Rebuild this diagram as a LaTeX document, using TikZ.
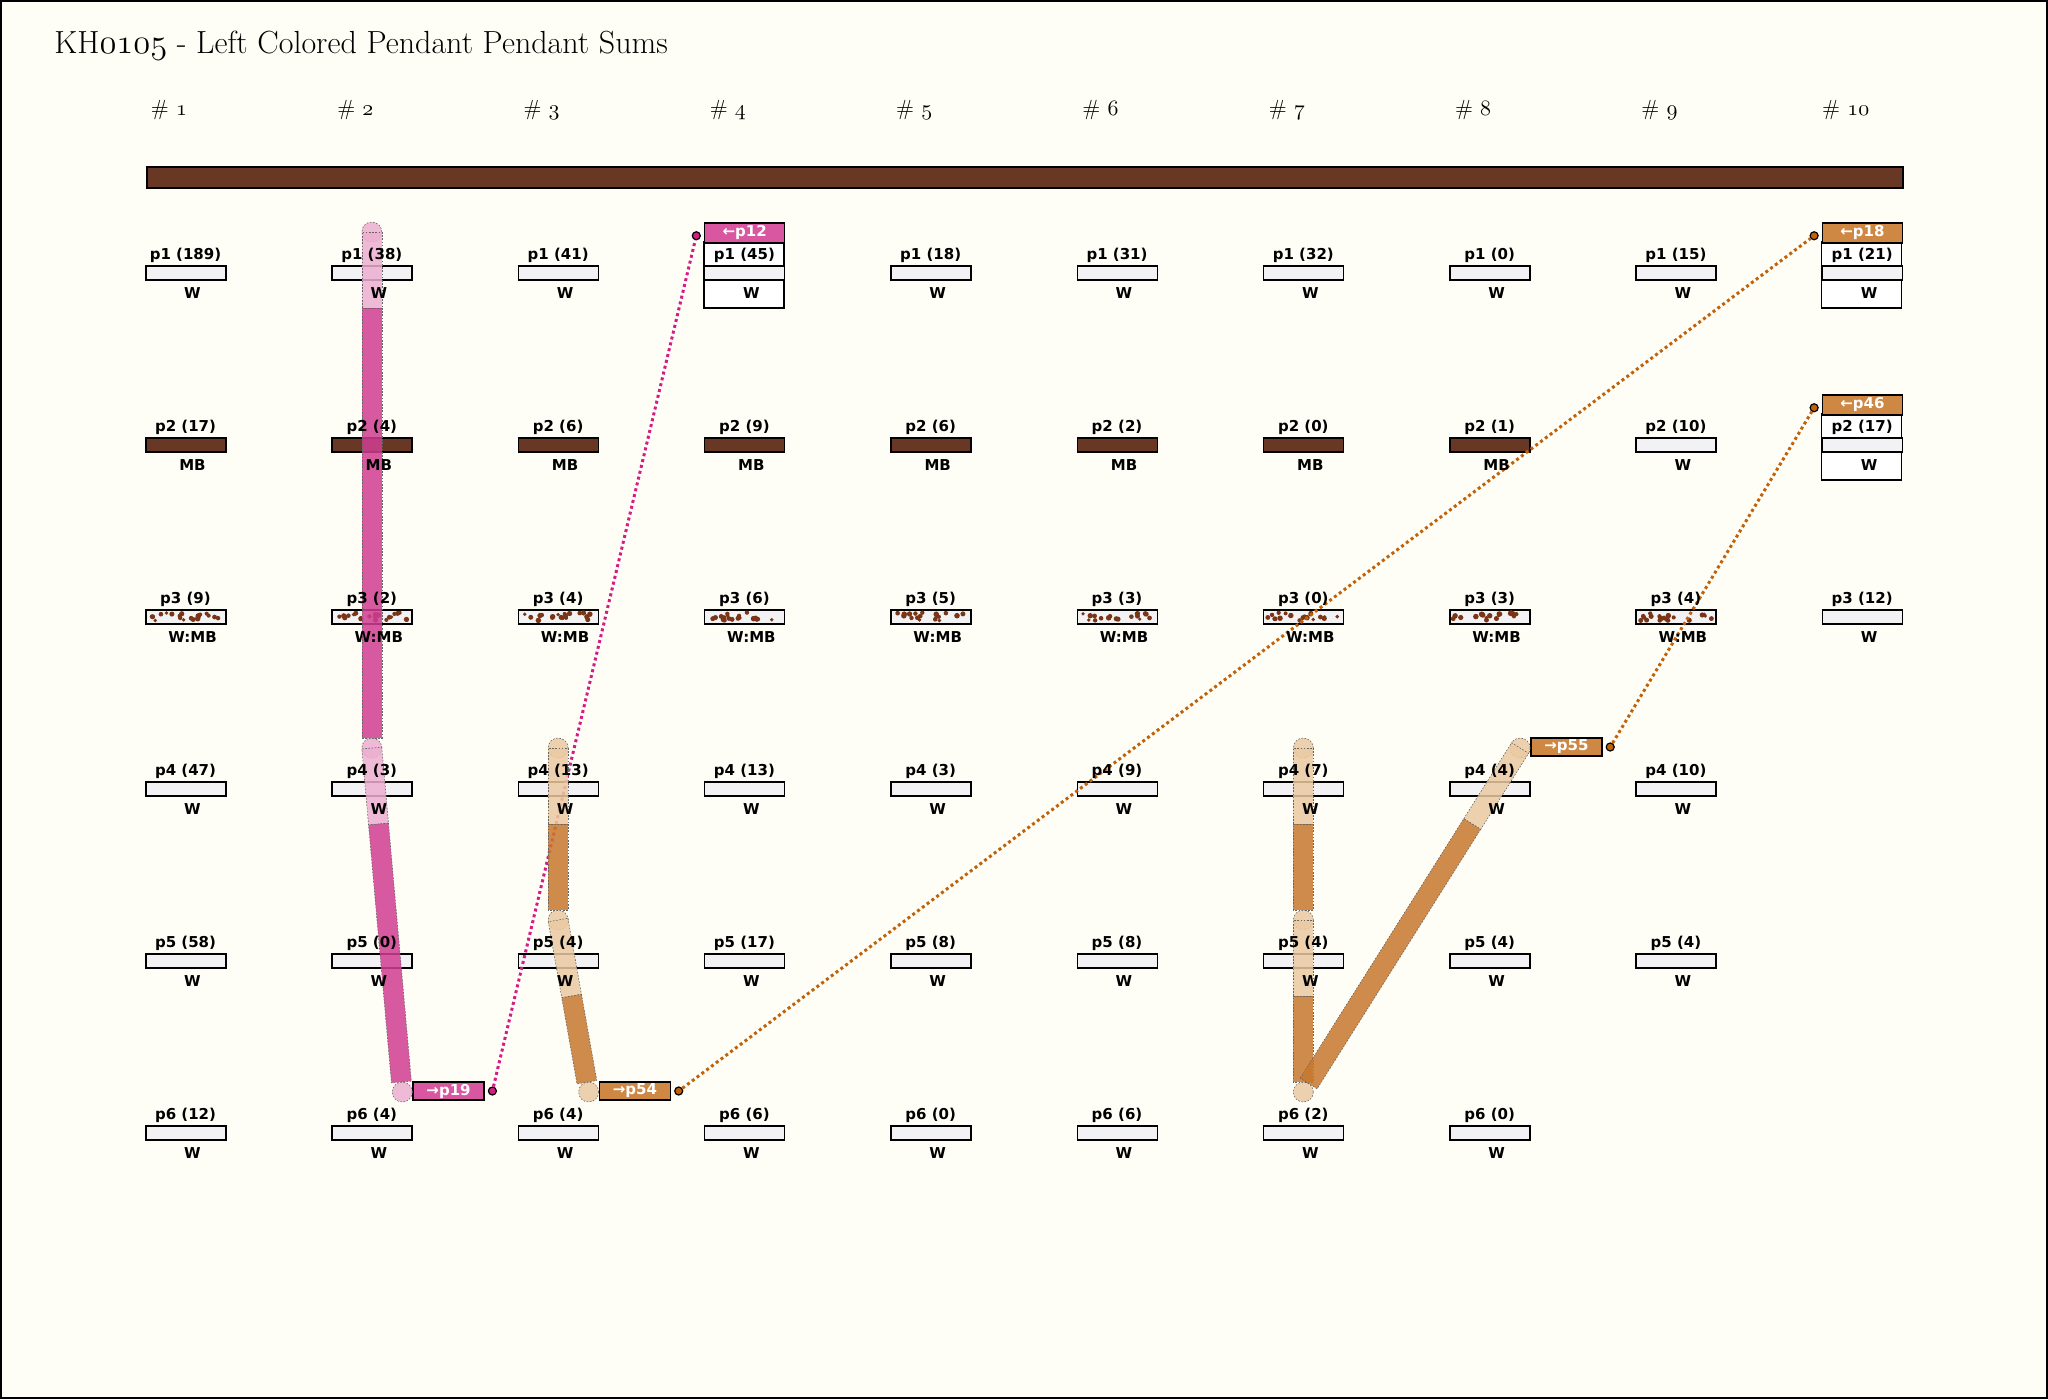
\documentclass[tikz,border=0pt]{standalone}
\usepackage{fontspec}
\usetikzlibrary{calc,positioning}
\newfontfamily\lblfont{DejaVu Sans}
\newcommand\osnum[1]{{\usefont{OML}{lmm}{m}{it}#1}}
\definecolor{bgcream}{RGB}{255,254,246}
\definecolor{cordbrown}{RGB}{104,56,36}
\definecolor{barwhite}{RGB}{242,242,244}
\definecolor{speck}{RGB}{122,52,22}
\definecolor{pinkdark}{RGB}{209,62,146}
\definecolor{pinklight}{RGB}{237,175,209}
\definecolor{orangedark}{RGB}{198,120,46}
\definecolor{orangelight}{RGB}{235,202,162}
\definecolor{pinkbox}{RGB}{217,87,160}
\definecolor{orangebox}{RGB}{206,136,68}
\definecolor{pinkline}{RGB}{212,28,135}
\definecolor{orangeline}{RGB}{192,98,10}
% one band piece from #1 to #2, and a round end at #1
\newcommand\bandpart[3]{\filldraw[band,fill=#3] ($#1!5pt!90:#2$) -- ($#2!5pt!-90:#1$) -- ($#2!5pt!90:#1$) -- ($#1!5pt!-90:#2$) -- cycle;}
\newcommand\bandend[2]{\filldraw[band,fill=#2] #1 circle (5pt);}
% row / values / colour of each pendant
\def\rowdata{%
1/{189/W,38/W,41/W,45/W,18/W,31/W,32/W,0/W,15/W,21/W},%
2/{17/MB,4/MB,6/MB,9/MB,6/MB,2/MB,0/MB,1/MB,10/W,17/W},%
3/{9/W:MB,2/W:MB,4/W:MB,6/W:MB,5/W:MB,3/W:MB,0/W:MB,3/W:MB,4/W:MB,12/W},%
4/{47/W,3/W,13/W,13/W,3/W,9/W,7/W,4/W,10/W},%
5/{58/W,0/W,4/W,17/W,8/W,8/W,4/W,4/W,4/W},%
6/{12/W,4/W,4/W,6/W,0/W,6/W,2/W,0/W}}
\begin{document}
\begin{tikzpicture}[x=0.5pt,y=-0.5pt,
  lbl/.style={font=\lblfont\bfseries\fontsize{7.5}{8}\selectfont, inner sep=0pt},
  bar/.style={draw, line width=0.75pt, minimum width=40pt, minimum height=7pt, inner sep=0pt, anchor=north west},
  kind W/.style={fill=barwhite},
  kind MB/.style={fill=cordbrown},
  kind W:MB/.style={fill=barwhite},
  attbox/.style={draw, fill=white, line width=0.75pt},
  sumhead/.style={lbl, draw, line width=0.75pt, text=white, minimum width=40pt, minimum height=10pt, anchor=north west},
  sumbox/.style={lbl, draw, line width=0.75pt, text=white, minimum width=35.5pt, minimum height=9pt, anchor=west},
  sumdot/.style={draw, circle, line width=0.6pt, inner sep=0pt, minimum size=4pt},
  pinklinks/.style={pinkline, line width=1.5pt, dash pattern=on 1.5pt off 1.5pt},
  orangelinks/.style={orangeline, line width=1.5pt, dash pattern=on 1.5pt off 1.5pt},
  band/.style={draw=black!60, line width=0.3pt, dash pattern=on 0.8pt off 0.8pt, fill opacity=0.85},
  colhead/.style={font=\fontsize{11}{13}\selectfont, inner sep=0pt}]
\fill[bgcream] (0,0) rectangle (2048,1399);
\draw[line width=1pt] (1,1) rectangle (2047,1398);
\useasboundingbox (0,0) rectangle (2048,1399);

\node[anchor=base west, font=\fontsize{16}{19}\selectfont, inner sep=0pt] (title) at (54,53) {KH\osnum{0105} - Left Colored Pendant Pendant Sums};
\foreach \pc in {1,...,10}{
	\pgfmathsetmacro\xc{145+(\pc-1)*186.3+24}
	\node[colhead] (n\pc) at (\xc,110) {\# \osnum{\pc}};}
\node[draw, fill=cordbrown, line width=1.2pt, minimum width=878pt, minimum height=10.5pt, inner sep=0pt, anchor=north west] (cord) at (146,166) {};

% boxes that hold a sum
\foreach \pc/\pr/\sn/\hc/\dc in {4/1/12/pinkbox/pinkline, 10/1/18/orangebox/orangeline, 10/2/46/orangebox/orangeline}{
	\pgfmathsetmacro\xl{145+(\pc-1)*186.3}
	\pgfmathsetmacro\yt{265+(\pr-1)*172}
	\draw[attbox] (\xl,\yt-23) rectangle (\xl+80,\yt+43);
	\node[sumhead, fill=\hc] (h\sn) at (\xl,\yt-43) {←p\sn};
	\node[sumdot, fill=\dc, left=1.5pt of h\sn, yshift=-1.5pt] (e\sn) {};}

% pendants
\foreach \pr/\lst in \rowdata {
	\foreach \pv/\pk [count=\pc] in \lst {
		\pgfmathsetmacro\xl{145+(\pc-1)*186.3}
		\pgfmathsetmacro\yt{265+(\pr-1)*172}
		\node[bar, kind \pk] (b\pc-\pr) at (\xl,\yt) {};}}
\pgfmathsetseed{5}
\foreach \pc in {1,...,9}{\foreach \i in {1,...,20}{
	\pgfmathsetmacro\sx{4+72*rnd}\pgfmathsetmacro\sy{3.5+8*rnd}\pgfmathsetmacro\sr{0.9+0.5*rnd}
	\fill[speck] ($(b\pc-3.north west)+(\sx,\sy)$) circle (\sr pt);}}

% sums
\foreach \sn/\xs/\ys/\hc/\dc in {19/412.3/1091/pinkbox/pinkline, 54/598.6/1091/orangebox/orangeline, 55/1530.1/747/orangebox/orangeline}{
	\node[sumbox, fill=\hc] (s\sn) at (\xs,\ys) {→p\sn};
	\node[sumdot, fill=\dc, right=1.5pt of s\sn] (d\sn) {};}
\draw[pinklinks] (d19) -- (e12);
\draw[orangelinks] (d54) -- (e18);
\draw[orangelinks] (d55) -- (e46);

% pink band
\bandend{(371.8,232)}{pinklight}
\bandpart{(371.8,232)}{(371.8,308)}{pinklight}
\bandend{(371.8,748)}{pinklight}
\bandpart{(371.8,748)}{(378.5,824)}{pinklight}
\bandend{(402.3,1092)}{pinklight}
\bandpart{(371.8,308)}{(371.8,738)}{pinkdark}
\bandpart{(378.5,824)}{(401.4,1082)}{pinkdark}
% orange band, #3
\bandend{(558.1,748)}{orangelight}
\bandpart{(558.1,748)}{(558.1,824)}{orangelight}
\bandend{(558.1,920)}{orangelight}
\bandpart{(558.1,920)}{(571.6,996)}{orangelight}
\bandend{(588.6,1092)}{orangelight}
\bandpart{(558.1,824)}{(558.1,910)}{orangedark}
\bandpart{(571.6,996)}{(586.9,1082.2)}{orangedark}
% orange band, #7 and #8
\bandend{(1303.3,748)}{orangelight}
\bandpart{(1303.3,748)}{(1303.3,824)}{orangelight}
\bandend{(1303.3,920)}{orangelight}
\bandpart{(1303.3,920)}{(1303.3,996)}{orangelight}
\bandend{(1303.3,1092)}{orangelight}
\bandend{(1520.1,748)}{orangelight}
\bandpart{(1472.2,824)}{(1520.1,748)}{orangelight}
\bandpart{(1303.3,824)}{(1303.3,910)}{orangedark}
\bandpart{(1303.3,996)}{(1303.3,1082)}{orangedark}
\bandpart{(1308.6,1083.5)}{(1472.2,824)}{orangedark}

% labels
\foreach \pr/\lst in \rowdata {
	\foreach \pv/\pk [count=\pc] in \lst {
		\pgfmathsetmacro\xl{145+(\pc-1)*186.3}
		\pgfmathsetmacro\yt{265+(\pr-1)*172}
		\node[lbl] (t\pc-\pr) at (\xl+40.5,\yt-10) {p\pr{} (\pv)};
		\node[lbl] (u\pc-\pr) at (\xl+47.5,\yt+28) {\pk};}}
\end{tikzpicture}
\end{document}
